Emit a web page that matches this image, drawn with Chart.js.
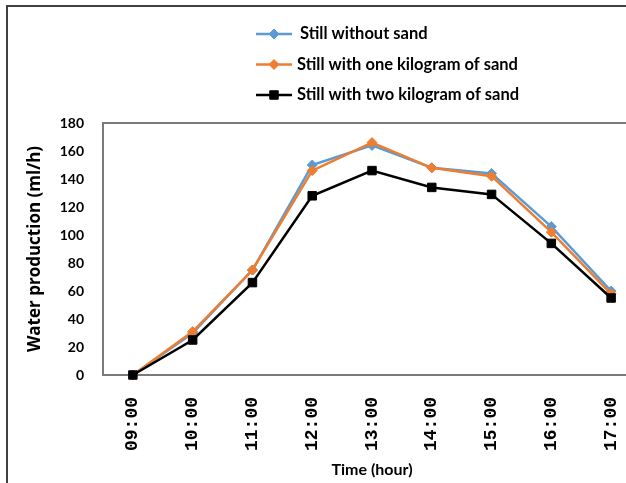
<!DOCTYPE html>
<html>
<head>
<meta charset="utf-8">
<script src="https://cdn.jsdelivr.net/npm/chart.js@4.4.1/dist/chart.umd.min.js"></script>
<style>
  html, body { margin: 0; padding: 0; background: #fff; overflow: hidden; }
  #wrap { position: relative; width: 626px; height: 483px; overflow: hidden; }
  canvas { position: absolute; left: 0; top: 0; }
</style>
</head>
<body>
<div id="wrap"><canvas id="waterChart" width="660" height="483"></canvas></div>
<script>
// Data (ml/h per hour of the day)
const hours = ['09:00', '10:00', '11:00', '12:00', '13:00', '14:00', '15:00', '16:00', '17:00'];
const withoutSand = [0, 30, 75, 150, 164, 148, 144, 106, 60];
const oneKgSand = [0, 31, 75, 146, 166, 148, 142, 102, 58];
const twoKgSand = [0, 25, 66, 128, 146, 134, 129, 94, 55];

const yMin = 0;
const yMax = 180;
const yStep = 20;

// Outer frame + grey plot-area border (Excel style)
const framePlugin = {
  id: 'framePlugin',
  beforeDraw(chart) {
    const ctx = chart.ctx;
    ctx.save();
    ctx.strokeStyle = '#404040';
    ctx.lineWidth = 2;
    ctx.strokeRect(7, 6, 700, 600);
    ctx.restore();
  },
  beforeDatasetsDraw(chart) {
    const { ctx, chartArea } = chart;
    ctx.save();
    ctx.strokeStyle = '#7a7a7a';
    ctx.lineWidth = 2;
    ctx.strokeRect(chartArea.left, chartArea.top,
      chartArea.right - chartArea.left, chartArea.bottom - chartArea.top);
    ctx.restore();
  }
};

// Stacked legend at the top: line sample with marker, then label
const stackedLegend = {
  id: 'stackedLegend',
  afterDraw(chart) {
    const ctx = chart.ctx;
    chart.data.datasets.forEach((ds, i) => {
      const y = 34 + i * 30.5;
      ctx.save();
      ctx.strokeStyle = ds.borderColor;
      ctx.fillStyle = ds.backgroundColor;
      ctx.lineWidth = ds.borderWidth;
      ctx.beginPath();
      ctx.moveTo(256, y);
      ctx.lineTo(292, y);
      ctx.stroke();
      ctx.lineWidth = 1;
      Chart.helpers.drawPoint(ctx, {
        pointStyle: ds.pointStyle,
        radius: ds.pointRadius,
        borderWidth: 1,
        rotation: 0
      }, 274, y);
      ctx.fillStyle = '#000';
      ctx.font = 'bold 16.5px Lato';
      ctx.textBaseline = 'middle';
      ctx.textAlign = 'left';
      ctx.fillText(ds.label, i === 0 ? 300 : 297, y);
      ctx.restore();
    });
  }
};

new Chart(document.getElementById('waterChart'), {
  type: 'line',
  data: {
    labels: hours,
    datasets: [
      {
        label: 'Still without sand',
        data: withoutSand,
        borderColor: '#5b9bd5',
        backgroundColor: '#5b9bd5',
        borderWidth: 2.5,
        pointStyle: 'rectRot',
        pointRadius: 5,
        pointBorderWidth: 1,
        tension: 0,
        clip: false,
        order: 3
      },
      {
        label: 'Still with one kilogram of sand',
        data: oneKgSand,
        borderColor: '#ed7d31',
        backgroundColor: '#ed7d31',
        borderWidth: 2.5,
        pointStyle: 'rectRot',
        pointRadius: 5,
        pointBorderWidth: 1,
        tension: 0,
        clip: false,
        order: 2
      },
      {
        label: 'Still with two kilogram of sand',
        data: twoKgSand,
        borderColor: '#000000',
        backgroundColor: '#000000',
        borderWidth: 2.5,
        pointStyle: 'rect',
        pointRadius: 6,
        pointBorderWidth: 1,
        tension: 0,
        clip: false,
        order: 1
      }
    ]
  },
  options: {
    responsive: false,
    animation: false,
    layout: { padding: { top: 123, right: 19, bottom: 0, left: 0 } },
    plugins: {
      legend: { display: false },
      tooltip: { enabled: false }
    },
    scales: {
      x: {
        offset: true,
        grid: { display: false, drawTicks: false },
        border: { display: false },
        ticks: {
          color: '#000',
          font: { family: 'Liberation Mono', weight: 'bold', size: 18 },
          minRotation: 90,
          maxRotation: 90,
          autoSkip: false,
          padding: 22
        },
        title: {
          display: true,
          text: 'Time (hour)',
          color: '#000',
          font: { family: 'Lato', weight: 'bold', size: 16 },
          padding: { top: 0, bottom: 4 }
        },
        afterFit(scale) { scale.height = 108; }
      },
      y: {
        min: yMin,
        max: yMax,
        grid: { display: false, drawTicks: false },
        border: { display: false },
        ticks: {
          stepSize: yStep,
          color: '#000',
          font: { family: 'Lato', weight: 'bold', size: 14 },
          padding: 19
        },
        title: {
          display: true,
          text: 'Water production (ml/h)',
          color: '#000',
          font: { family: 'Open Sans', weight: 'bold', size: 17 },
          padding: { top: 25, bottom: 0 }
        },
        afterFit(scale) { scale.width = 103; }
      }
    }
  },
  plugins: [framePlugin, stackedLegend]
});
</script>
</body>
</html>
